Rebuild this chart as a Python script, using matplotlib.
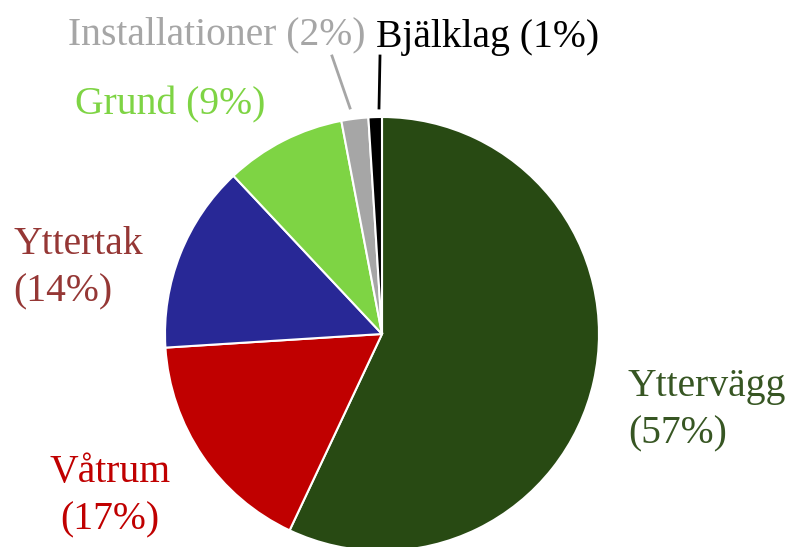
import matplotlib
matplotlib.use("Agg")
import matplotlib.pyplot as plt
from matplotlib.lines import Line2D

categories = ["Yttervägg", "Våtrum", "Yttertak", "Grund", "Installationer", "Bjälklag"]
values = [57, 17, 14, 9, 2, 1]
fill_colors = ["#284a13", "#c00000", "#282896", "#7ed444", "#a6a6a6", "#000000"]
text_colors = ["#375623", "#c00000", "#953735", "#7ed444", "#a6a6a6", "#000000"]

W, H = 796, 547
fig = plt.figure(figsize=(W / 100, H / 100), dpi=100)
cx, cy, r = 382, 334, 217
ax = fig.add_axes([(cx - r) / W, (H - cy - r) / H, 2 * r / W, 2 * r / H])
ax.pie(values, colors=fill_colors, startangle=90, counterclock=False,
       wedgeprops=dict(edgecolor="white", linewidth=1.5))
ax.set_xlim(-1, 1)
ax.set_ylim(-1, 1)
ax.set_aspect("equal")
ax.axis("off")

fam = ["Liberation Serif", "DejaVu Serif"]
fs = 28.5

def px(x, y):
    return x / W, 1 - y / H

def label(i, x, y, ha, two_lines):
    name = categories[i]
    pct = f"({values[i]}%)"
    txt = f"{name}\n{pct}" if two_lines else f"{name} {pct}"
    fig.text(*px(x, y), txt, ha=ha, va="center", color=text_colors[i],
             fontsize=fs, family=fam, linespacing=1.38,
             multialignment="center" if ha == "center" else "left")

label(0, 628, 410, "left", True)
label(1, 110, 496, "center", True)
label(2, 13, 268, "left", True)
label(3, 75, 105, "left", False)
label(4, 365, 35, "right", False)
label(5, 376, 38, "left", False)

for (x0, y0, x1, y1, c) in [(332, 56, 350, 108, text_colors[4]), (380, 56, 379, 108, text_colors[5])]:
    a, b = px(x0, y0)
    c0, d = px(x1, y1)
    fig.add_artist(Line2D([a, c0], [b, d], color=c, linewidth=2, transform=fig.transFigure))

fig.savefig("out.png", dpi=100)
